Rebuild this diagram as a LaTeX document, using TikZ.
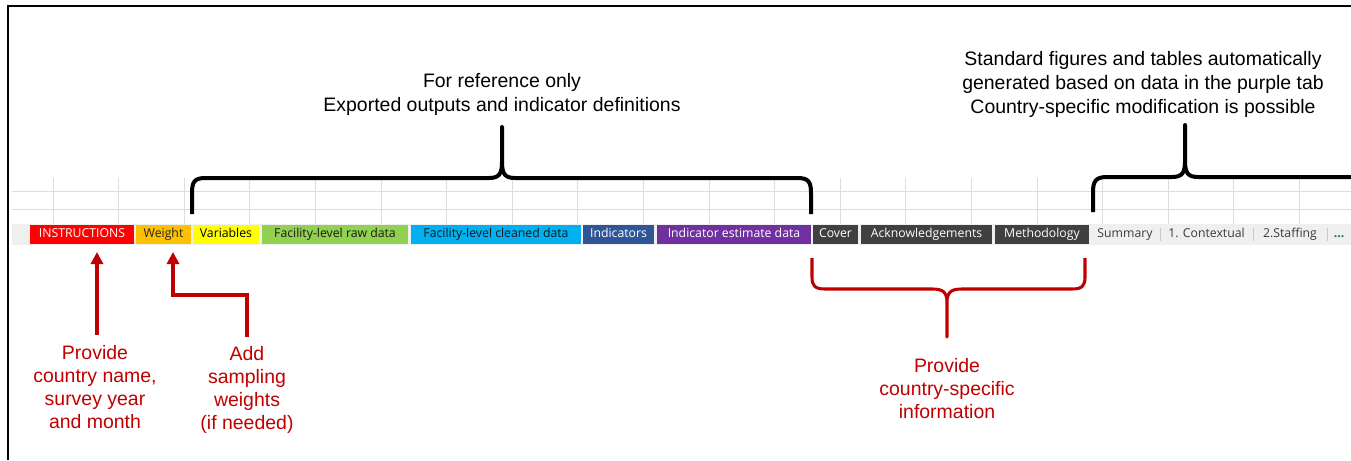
\documentclass[tikz,border=0pt]{standalone}
\usepackage{fontspec}
\setmainfont{Liberation Sans}
\newfontfamily\tabfont{Open Sans}
\usetikzlibrary{arrows.meta}
\definecolor{annred}{HTML}{C00000}
\definecolor{gridgray}{HTML}{DDDDDD}
\definecolor{barbg}{HTML}{EFEFEF}
\definecolor{sepgray}{HTML}{C8C8C8}
\definecolor{tabred}{HTML}{FF0000}
\definecolor{taborange}{HTML}{FFC000}
\definecolor{tabyellow}{HTML}{FFFF00}
\definecolor{tabgreen}{HTML}{92D050}
\definecolor{tabcyan}{HTML}{00B0F0}
\definecolor{tabblue}{HTML}{2F5597}
\definecolor{tabpurple}{HTML}{7030A0}
\definecolor{tabdark}{HTML}{404040}
\definecolor{tabtext}{HTML}{3A3A3A}
\definecolor{excelgreen}{HTML}{217346}
\newcommand{\mytab}[6]{\node[tabnode, fill=#4, text=#5, minimum width={(#3-#2)*0.75pt}] (#1) at ({(#2+#3)/2},234.5) {#6};}
\tikzset{
  tabnode/.style={font=\tabfont\fontsize{9.2}{10}\selectfont, minimum height=14.25pt, inner sep=0pt, text height=6.6pt, text depth=2pt, anchor=center},
  blacknote/.style={font=\fontsize{14.6}{18}\selectfont, align=center, text=black, inner sep=0pt},
  rednote/.style={font=\fontsize{14.6}{17.25}\selectfont, align=center, text=annred, inner sep=0pt},
  bracestyle/.style={line width=3pt, black, line join=round},
  redbrace/.style={line width=2.3pt, annred, line join=round},
  redarrow/.style={line width=2.6pt, annred, -{Triangle[width=9pt,length=9pt]}},
  gridline/.style={gridgray, line width=0.75pt},
  sepline/.style={sepgray, line width=0.75pt}
}
\begin{document}
\begin{tikzpicture}[x=0.75pt,y=-0.75pt]
\useasboundingbox (0,0) rectangle (1351,460);
\fill[white] (0,0) rectangle (1351,460);
% grid
\foreach \gx in {53,118.6,184.2,249.8,315.4,381,446.6,512.2,577.8,643.4,709,774.6,840.2,905.8,971.4,1037,1102.6,1168.2,1233.8,1299.4}
  \draw[gridline] (\gx,178) -- (\gx,224);
\draw[gridline] (12,191) -- (1351,191);
\draw[gridline] (12,209) -- (1351,209);
% tab bar
\fill[barbg] (12,223.5) rectangle (1351,245);
\mytab{instr}{30}{134}{tabred}{white}{INSTRUCTIONS}
\mytab{weight}{136}{191}{taborange}{black!85}{Weight}
\mytab{vars}{193}{259}{tabyellow}{black}{Variables}
\mytab{raw}{262}{408}{tabgreen}{black!90}{Facility-level raw data}
\mytab{clean}{411}{581}{tabcyan}{black!90}{Facility-level cleaned data}
\mytab{ind}{583}{654}{tabblue}{white}{Indicators}
\mytab{inddata}{657}{811}{tabpurple}{white}{Indicator estimate data}
\mytab{cover}{813}{858}{tabdark}{white}{Cover}
\mytab{ack}{861}{992}{tabdark}{white}{Acknowledgements}
\mytab{meth}{995}{1089}{tabdark}{white}{Methodology}
\mytab{summ}{1090}{1160}{barbg}{tabtext}{Summary}
\mytab{ctx}{1160}{1253}{barbg}{tabtext}{1. Contextual}
\mytab{staff}{1253}{1327}{barbg}{tabtext}{2.Staffing}
\mytab{more}{1327}{1351}{barbg}{excelgreen}{\textbf{...}}
\draw[sepline] (summ.north east) ++(0,3) -- ++(0,13);
\draw[sepline] (ctx.north east) ++(0,3) -- ++(0,13);
\draw[sepline] (staff.north east) ++(0,3) -- ++(0,13);
% frame
\draw[line width=1.5pt] (7.5,460) -- (7.5,6.5) -- (1351,6.5);
% black braces
\coordinate (b1l) at (192,214);
\coordinate (b1r) at (811,214);
\coordinate (b1t) at (502,127);
\draw[bracestyle] (b1l) -- (192,193) .. controls (192,181) and (195,178) .. (206,178) -- (489,178) .. controls (499,178) and (502,174) .. (502,162) -- (b1t) -- (502,162) .. controls (502,174) and (505,178) .. (515,178) -- (797,178) .. controls (808,178) and (811,181) .. (811,193) -- (b1r);
\node[blacknote] (ref) at (502,94) {For reference only\\Exported outputs and indicator definitions};
\coordinate (b2l) at (1093,212);
\coordinate (b2t) at (1185,125);
\coordinate (b2r) at (1352,177);
\draw[bracestyle] (b2l) -- (1093,192) .. controls (1093,181) and (1096,177) .. (1107,177) -- (1172,177) .. controls (1182,177) and (1185,173) .. (1185,161) -- (b2t) -- (1185,161) .. controls (1185,173) and (1188,177) .. (1198,177) -- (b2r);
\node[blacknote] (std) at (1143,84) {Standard figures and tables automatically\\generated based on data in the purple tab\\Country-specific modification is possible};
% red bracket
\coordinate (rbl) at (812,258);
\coordinate (rbr) at (1085,258);
\coordinate (rbs) at (947,337);
\draw[redbrace] (rbl) -- (812,277) .. controls (812,286) and (815,289) .. (825,289) -- (932,289) .. controls (943,289) and (947,292) .. (947,303) -- (rbs) -- (947,303) .. controls (947,292) and (951,289) .. (962,289) -- (1072,289) .. controls (1082,289) and (1085,286) .. (1085,277) -- (rbr);
\node[rednote] (csi) at (947,389) {Provide\\country-specific\\information};
% red arrows
\node[rednote] (prov) at (95,387) {Provide\\country name,\\survey year\\and month};
\node[rednote] (addw) at (247,390) {Add\\sampling\\weights\\(if needed)};
\coordinate (a1s) at (97,335);
\coordinate (a1e) at (97,252);
\draw[redarrow] (a1s) -- (a1e);
\coordinate (a2s) at (247,337);
\coordinate (a2e) at (173,252);
\draw[redarrow] (a2s) -- (247,295) -- (173,295) -- (a2e);
\end{tikzpicture}
\end{document}
